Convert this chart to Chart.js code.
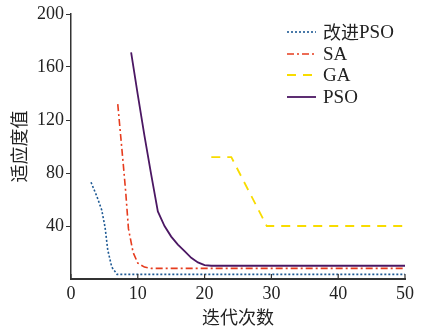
<!DOCTYPE html>
<html>
<head>
<meta charset="utf-8">
<script src="https://cdn.jsdelivr.net/npm/chart.js@4"></script>
<style>
  html, body { margin: 0; padding: 0; background: #fff; }
  #wrap { width: 425px; height: 329px; }
</style>
</head>
<body>
<div id="wrap"><canvas id="myChart"></canvas></div>
<script>
// values
const names = ['改进PSO', 'SA', 'GA', 'PSO'];

const ipsoX = [3, 3.9, 4.6, 5.1, 5.5, 6.1, 6.9, 50];
const ipsoY = [73, 62, 52, 39, 22, 9, 3.5, 3.5];

const saX = [7, 7.8, 8.2, 8.6, 9.3, 10, 11, 12, 50];
const saY = [132, 88, 65, 38, 20, 12, 9, 8, 8];

const gaX = [21, 24, 29.3, 50];
const gaY = [92, 92, 40, 40];

const psoX = [9, 10, 11, 12, 13, 14, 15, 16, 17, 18, 19, 20, 21, 50];
const psoY = [171, 139, 108, 79, 51, 40, 32, 26, 21, 16, 12.5, 10.5, 10, 10];

const xTicks = [0, 10, 20, 30, 40, 50];
const yTicks = [40, 80, 120, 160, 200];

const serif = "'Liberation Serif', 'Times New Roman', serif";
const cjk = "'Noto Sans CJK SC', 'Liberation Serif', serif";

function pts(xs, ys) {
  return xs.map((x, i) => ({ x: x, y: ys[i] }));
}

const styles = [
  { color: '#1f5a94', dash: [2, 2], width: 1.6 },
  { color: '#e63c1e', dash: [7, 3, 2, 3], width: 1.6 },
  { color: '#f8dc00', dash: [9, 7], width: 1.8 },
  { color: '#4b1763', dash: [], width: 1.8 }
];

const series = [pts(ipsoX, ipsoY), pts(saX, saY), pts(gaX, gaY), pts(psoX, psoY)];

// legend drawn inside the plot, top right
const legendBox = {
  id: 'legendBox',
  afterDraw(chart) {
    const c = chart.ctx;
    const x0 = 287, x1 = 316, tx = 323;
    const rows = [32, 54, 75, 97];
    c.save();
    chart.data.datasets.forEach((ds, i) => {
      const y = rows[i];
      c.beginPath();
      c.setLineDash(ds.borderDash);
      c.lineWidth = ds.borderWidth;
      c.strokeStyle = ds.borderColor;
      c.moveTo(x0, y);
      c.lineTo(x1, y);
      c.stroke();
      c.setLineDash([]);
      c.fillStyle = '#222';
      c.textBaseline = 'middle';
      c.font = '18px ' + cjk;
      const lbl = ds.label;
      const m = lbl.match(/^([^A-Za-z]*)(.*)$/);
      let x = tx;
      if (m[1]) {
        c.fillText(m[1], x, y);
        x += c.measureText(m[1]).width;
      }
      c.font = '19px ' + serif;
      c.fillText(m[2], x, y + 1);
    });
    c.restore();
  }
};

// small inward ticks on the x axis, as in the original
const innerTicks = {
  id: 'innerTicks',
  afterDraw(chart) {
    const c = chart.ctx;
    const xs = chart.scales.x;
    const bottom = chart.chartArea.bottom;
    c.save();
    c.strokeStyle = '#333';
    c.lineWidth = 1.2;
    xTicks.forEach(v => {
      const px = xs.getPixelForValue(v);
      c.beginPath();
      c.moveTo(px, bottom);
      c.lineTo(px, bottom - 5);
      c.stroke();
    });
    c.restore();
  }
};

const ctx = document.getElementById('myChart');

const chart = new Chart(ctx, {
  type: 'line',
  data: {
    datasets: series.map((d, i) => ({
      label: names[i],
      data: d,
      borderColor: styles[i].color,
      borderDash: styles[i].dash,
      borderWidth: styles[i].width,
      pointRadius: 0,
      fill: false,
      tension: 0
    }))
  },
  options: {
    responsive: true,
    maintainAspectRatio: false,
    animation: false,
    layout: { padding: { top: 14, right: 20, left: 0, bottom: 0 } },
    plugins: {
      legend: { display: false },
      tooltip: { enabled: false }
    },
    scales: {
      x: {
        type: 'linear',
        min: 0,
        max: 50,
        afterBuildTicks: (s) => { s.ticks = xTicks.map(v => ({ value: v })); },
        afterFit: (s) => { s.height = 50; },
        ticks: { color: '#222', font: { family: serif, size: 18 }, padding: 2, maxRotation: 0 },
        grid: { drawOnChartArea: false, tickLength: 2, tickColor: 'rgba(0,0,0,0)' },
        border: { color: '#333', width: 2 },
        title: { display: true, text: '迭代次数', color: '#222', font: { family: cjk, size: 18 }, padding: { top: 0, bottom: 1 } }
      },
      y: {
        min: 0,
        max: 200,
        afterBuildTicks: (s) => { s.ticks = yTicks.map(v => ({ value: v })); },
        afterFit: (s) => { s.width = 71; },
        ticks: { color: '#222', font: { family: serif, size: 18 }, padding: 2 },
        grid: { drawOnChartArea: false, tickLength: 5, tickColor: '#333' },
        border: { color: '#333', width: 1.5 },
        title: { display: true, text: '适应度值', color: '#222', font: { family: cjk, size: 18 }, padding: { top: 8, bottom: 4 } }
      }
    }
  },
  plugins: [legendBox, innerTicks]
});
</script>
</body>
</html>
